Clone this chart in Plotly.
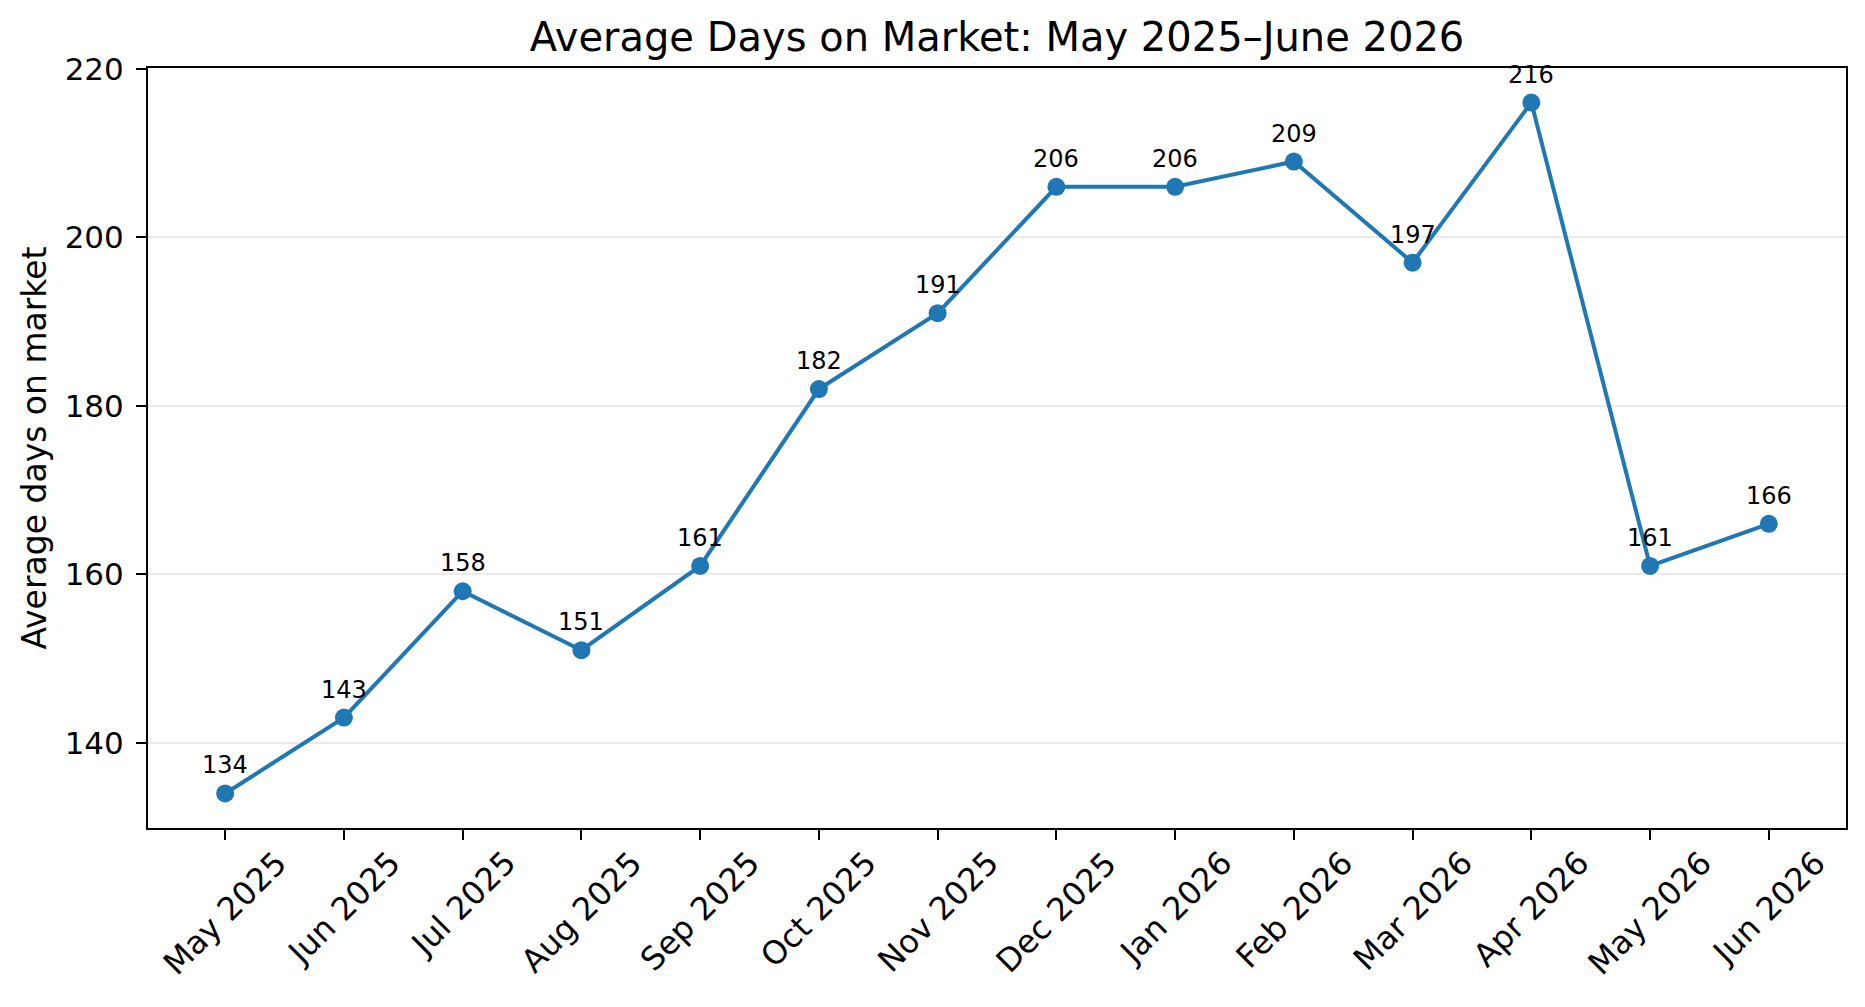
import plotly.graph_objects as go

# monthly averages
months = ["May 2025", "Jun 2025", "Jul 2025", "Aug 2025", "Sep 2025", "Oct 2025", "Nov 2025",
          "Dec 2025", "Jan 2026", "Feb 2026", "Mar 2026", "Apr 2026", "May 2026", "Jun 2026"]
avg_days = [134, 143, 158, 151, 161, 182, 191, 206, 206, 209, 197, 216, 161, 166]
y_ticks = [140, 160, 180, 200, 220]

BLUE = "#1f77b4"
FONT = "DejaVu Sans"

# the page body has an 8px margin, so the figure is made that much smaller
W, H = 1857, 999

fig = go.Figure()
fig.add_trace(go.Scatter(
    x=months, y=avg_days, mode="lines+markers",
    line=dict(color=BLUE, width=4),
    marker=dict(color=BLUE, size=18),
    hoverinfo="x+y", showlegend=False,
))

annotations = []
# value labels above each point
for m, v in zip(months, avg_days):
    annotations.append(dict(
        x=m, y=v, xref="x", yref="y", text=str(v), showarrow=False,
        xanchor="center", yanchor="bottom", yshift=12,
        font=dict(family=FONT, size=24, color="black"),
    ))
# rotated month labels, centred under each tick like the original
for m in months:
    annotations.append(dict(
        x=m, y=0, xref="x", yref="paper", text=m, showarrow=False,
        xanchor="center", yanchor="top", yshift=-13, textangle=-45,
        font=dict(family=FONT, size=32, color="black"),
    ))

fig.update_layout(
    width=W, height=H,
    margin=dict(l=140, r=19, t=60, b=179, autoexpand=False),
    paper_bgcolor="white", plot_bgcolor="white",
    font=dict(family=FONT, color="black"),
    title=dict(
        text="Average Days on Market: May 2025\u2013June 2026",
        x=0.5, xref="paper", xanchor="center",
        y=1 - 29 / H, yref="container", yanchor="middle",
        font=dict(family=FONT, size=40, color="black"),
    ),
    annotations=annotations,
)

fig.update_xaxes(
    type="category", range=[-0.65, len(months) - 0.35],
    showgrid=False, zeroline=False,
    showline=True, linecolor="black", linewidth=2, mirror=True,
    ticks="outside", ticklen=10, tickwidth=2, tickcolor="black",
    showticklabels=False,
)
fig.update_yaxes(
    range=[129.9, 220.1], tickvals=y_ticks,
    showgrid=True, gridcolor="#ebebeb", gridwidth=2, zeroline=False,
    showline=True, linecolor="black", linewidth=2, mirror=True,
    ticks="outside", ticklen=10, tickwidth=2, tickcolor="black",
    ticklabelstandoff=6,
    tickfont=dict(family=FONT, size=31, color="black"),
    title=dict(text="Average days on market", standoff=8,
               font=dict(family=FONT, size=33, color="black")),
)

fig.write_html("out.html")
